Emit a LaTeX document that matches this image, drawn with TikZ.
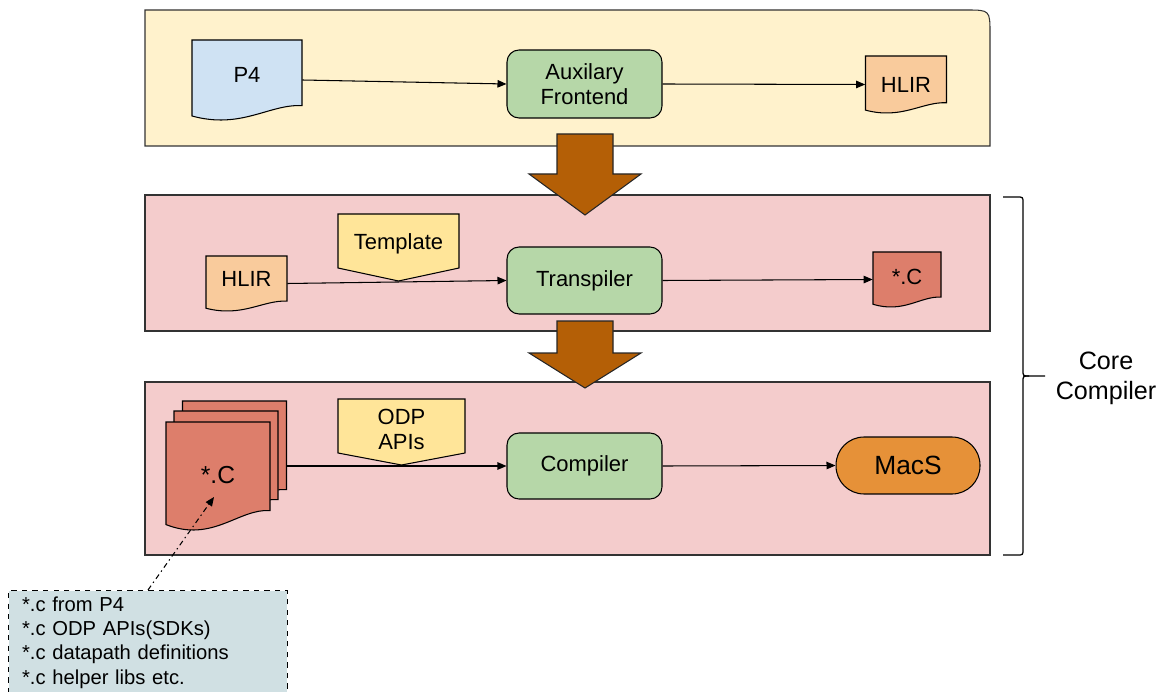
\documentclass[tikz,border=0pt]{standalone}
\usepackage{fontspec}
\setmainfont{Liberation Sans}
\usetikzlibrary{arrows.meta}

\definecolor{frontbg}{HTML}{FFF2CC}
\definecolor{corebg}{HTML}{F4CCCC}
\definecolor{srcblue}{HTML}{CFE2F3}
\definecolor{procgreen}{HTML}{B6D7A8}
\definecolor{hlirorange}{HTML}{F9CB9C}
\definecolor{tagyellow}{HTML}{FFE599}
\definecolor{cred}{HTML}{DD7E6B}
\definecolor{macsorange}{HTML}{E69138}
\definecolor{stagebrown}{HTML}{B45F06}
\definecolor{notegray}{HTML}{D0E0E3}

% document symbol with a wavy bottom: name, cx, cy, w, h, fill
\newcommand\docshape[6]{%
  \filldraw[fill=#6, line width=0.6pt]
    ({#2-#4/2},{#3-#5/2}) -- ({#2+#4/2},{#3-#5/2}) -- ({#2+#4/2},{#3+0.32*#5})
    .. controls ({#2+0.2*#4},{#3+0.3*#5}) and ({#2-0.05*#4},{#3+0.62*#5})
    .. ({#2-#4/2},{#3+0.45*#5}) -- cycle;
  \node[minimum width={#4*0.02cm}, minimum height={#5*0.02cm}, inner sep=0pt] (#1) at (#2,#3) {};
}
% off-page tag pointing down: name, cx, top, w, body, tip, text
\newcommand\tagshape[7]{%
  \filldraw[fill=tagyellow, line width=0.6pt]
    ({#2-#4/2},#3) -- ({#2+#4/2},#3) -- ({#2+#4/2},{#3+#5})
    -- (#2,{#3+#5+#6}) -- ({#2-#4/2},{#3+#5}) -- cycle;
  \node[align=center, font=\fontsize{12.5}{14.2}\selectfont] (#1) at (#2,{#3+#5/2+3}) {#7};
}

\begin{document}
\begin{tikzpicture}[
    x=0.02cm, y=-0.02cm,
    panel/.style={draw=black!80, line width=0.6pt},
    stagebox/.style={draw, line width=0.6pt, fill=procgreen, rounded corners=0.24cm,
      minimum width=3.1cm, align=center, font=\fontsize{12.5}{14.5}\selectfont},
    doclabel/.style={font=\fontsize{12.5}{14.5}\selectfont},
    flow/.style={line width=0.6pt, -{Triangle[length=1.8mm,width=1.5mm]}},
    bigarrow/.style={fill=stagebrown, draw=black!85, line width=0.6pt},
    note/.style={draw, dashed, fill=notegray, line width=0.6pt, align=left,
      font=\fontsize{11.5}{13.9}\selectfont}
    ]
    \useasboundingbox (0,0) rectangle (1165,692);

    % the three stages
    \filldraw[panel, fill=frontbg] (145,146) -- (145,10) -- (966,10)
      .. controls (990,10) .. (990,34) -- (990,146) -- cycle;
    \filldraw[panel, fill=corebg] (145,195) rectangle (990,331);
    \filldraw[panel, fill=corebg] (145,382) rectangle (990,555);

    % frontend
    \docshape{p4}{247}{80}{110}{80}{srcblue}
    \node[doclabel] (p4-txt) at (247,75) {P4};
    \node[stagebox, minimum height=1.36cm] (aux) at (584.5,84) {Auxilary\\Frontend};
    \docshape{hlir}{906}{84.5}{81}{57}{hlirorange}
    \node[doclabel] (hlir-txt) at (906,85) {HLIR};
    \draw[flow] (p4.east) -- (aux.west);
    \draw[flow] (aux.east) -- (hlir.west);

    % transpiler
    \docshape{hlirin}{246.5}{283.5}{81}{55}{hlirorange}
    \node[doclabel] (hlirin-txt) at (246.5,279) {HLIR};
    \tagshape{tmpl}{398.5}{214}{121}{54}{13}{Template}
    \node[stagebox, minimum height=1.34cm] (trans) at (584.5,280.5) {Transpiler};
    \docshape{cout}{907}{279.5}{68}{55}{cred}
    \node[doclabel] (cout-txt) at (907,276.5) {*.C};
    \draw[flow] (hlirin.east) -- (trans.west);
    \draw[flow] (trans.east) -- (cout.west);

    % compiler
    \docshape{cback}{234.5}{455}{104}{108}{cred}
    \docshape{cmid}{226}{465}{104}{108}{cred}
    \docshape{cfront}{218}{476}{104}{108}{cred}
    \node[font=\fontsize{14}{17}\selectfont] (cfront-txt) at (218,475) {*.C};
    \tagshape{odp}{401.5}{399}{127}{54}{12}{ODP\\APIs}
    \node[stagebox, minimum height=1.32cm] (comp) at (584.5,466) {Compiler};
    \node[draw, line width=0.6pt, fill=macsorange, rounded corners=0.56cm,
      minimum width=2.88cm, minimum height=1.14cm,
      font=\fontsize{15}{18}\selectfont] (macs) at (908,465.5) {MacS};
    \draw[flow] (cback.east |- comp.west) -- (comp.west);
    \draw[flow] (comp.east) -- (macs.west);

    % stage arrows
    \foreach \top/\mid/\tip in {134/174/215, 321/353/388}
      \filldraw[bigarrow] (557,\top) -- (613,\top) -- (613,\mid) -- (641,\mid)
        -- (585,\tip) -- (529,\mid) -- (557,\mid) -- cycle;

    % core compiler brace
    \coordinate (brtop) at (1003,197);
    \coordinate (brtip) at (1045,376);
    \coordinate (brbot) at (1003,555);
    \draw[line width=0.7pt] (brtop) -- (1017,197) .. controls (1023,197) .. (1023,203)
      -- (1023,370) .. controls (1023,376) .. (1029,376) -- (brtip);
    \draw[line width=0.7pt] (brbot) -- (1017,555) .. controls (1023,555) .. (1023,549)
      -- (1023,382) .. controls (1023,376) .. (1029,376);
    \node[align=center, font=\fontsize{14.3}{17}\selectfont] (core) at (1106,378) {Core\\Compiler};

    % what goes into the *.c files
    \node[note, anchor=north west, minimum width=5.58cm, minimum height=2.06cm,
      text width=5.04cm, inner xsep=0.27cm] (note) at (8,590)
      {*.c from P4\\{}*.c ODP APIs(SDKs)\\{}*.c datapath definitions\\{}*.c helper libs etc.};
    \coordinate (csrc) at (214,497);
    \draw[line width=0.6pt, dash pattern=on 3pt off 2pt on 0.8pt off 2pt,
      -{Triangle[length=1.8mm,width=1.5mm]}] (note.north) -- (csrc);
  \end{tikzpicture}
\end{document}
